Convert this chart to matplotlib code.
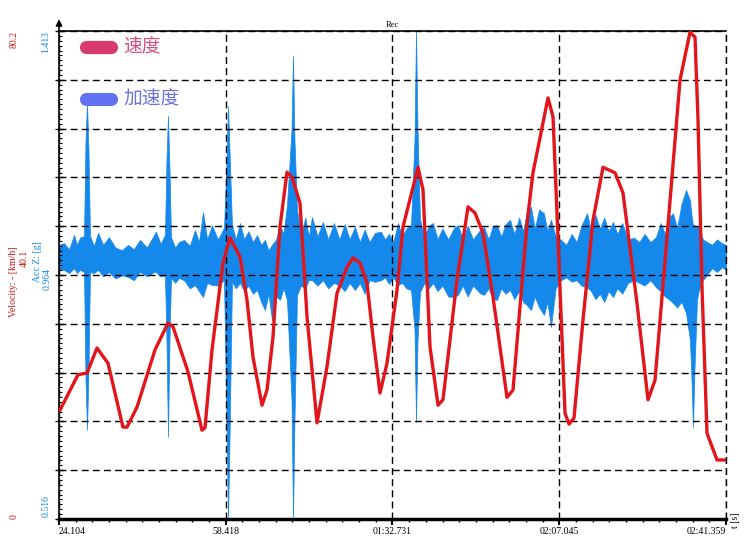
import matplotlib.pyplot as plt
import numpy as np

plt.rcParams['font.family'] = ['Liberation Serif', 'DejaVu Sans']

# velocity trace, km/h over time in s
vel_t = [24.31, 28.01, 29.87, 31.92, 34.19, 37.27, 38.10, 40.16, 43.86, 46.53,
         47.56, 50.65, 53.53, 54.15, 55.59, 57.85, 59.29, 61.35, 62.79, 64.03,
         65.88, 66.91, 68.14, 69.58, 71.02, 72.05, 73.70, 75.14, 77.20, 79.25,
         81.31, 83.37, 84.60, 86.04, 87.48, 88.72, 90.16, 91.60, 93.66, 94.89,
         97.98, 99.01, 100.45, 102.10, 103.12, 106.00, 108.27, 109.71, 111.35, 113.41,
         116.29, 117.53, 120.41, 121.64, 124.73, 125.76, 126.58, 128.23, 129.05, 130.08,
         131.93, 133.99, 136.05, 138.52, 140.16, 143.04, 145.31, 146.75, 149.22, 151.89,
         153.95, 154.98, 155.60, 156.42, 157.45, 159.51, 161.15]
vel_v = [17.9, 23.7, 24.0, 28.1, 25.6, 15.1, 15.1, 18.4, 27.8, 32.2,
         31.6, 24.2, 14.6, 15.0, 27.8, 42.1, 46.2, 43.1, 36.0, 26.6,
         18.7, 21.2, 29.9, 48.0, 57.0, 56.2, 51.9, 33.2, 15.8, 25.0,
         37.1, 41.4, 42.9, 42.1, 38.8, 29.9, 20.7, 25.6, 37.6, 48.0,
         57.8, 54.1, 28.3, 18.7, 19.6, 39.3, 51.3, 50.3, 47.0, 36.5,
         20.0, 21.2, 48.6, 56.9, 69.2, 66.1, 50.3, 17.4, 15.6, 16.6,
         32.7, 49.1, 57.8, 56.9, 53.6, 35.5, 19.6, 22.8, 46.3, 72.1,
         80.0, 79.2, 65.6, 38.1, 14.1, 9.7, 9.7]

# acceleration Z envelope (max / min in g)
acc_t = [24.10, 25.13, 26.2, 27.19, 27.8, 28.43, 29.25, 29.56, 29.87, 30.17,
         30.48, 31.3, 32.13, 33.2, 34.39, 35.7, 37.07, 38.30, 39.5, 40.77,
         42.2, 43.65, 44.06, 45.0, 45.91, 46.22, 46.53, 46.84, 47.15, 48.0,
         48.80, 49.83, 51.0, 52.09, 52.9, 53.74, 54.6, 55.59, 56.8, 58.06,
         58.57, 58.88, 59.19, 59.70, 60.5, 61.35, 62.2, 63.1, 64.0, 64.85,
         65.7, 66.49, 67.2, 67.93, 68.8, 69.58, 70.3, 71.02, 71.95, 72.26,
         72.56, 73.08, 73.9, 74.8, 75.5, 76.17, 77.3, 78.4, 79.5, 80.69,
         81.8, 82.9, 83.9, 85.01, 86.0, 87.0, 88.0, 89.13, 90.36, 91.2,
         92.0, 92.9, 93.86, 94.7, 95.6, 96.54, 97.26, 97.57, 97.88, 98.39,
         99.3, 100.2, 101.06, 102.0, 103.0, 104.2, 105.38, 106.21, 107.2, 108.2,
         109.3, 110.73, 111.56, 112.5, 113.4, 114.23, 115.1, 116.0, 116.91, 117.8,
         118.8, 119.6, 120.40, 121.23, 122.0, 122.9, 123.90, 124.6, 125.34, 126.3,
         127.40, 128.5, 129.6, 130.6, 131.6, 132.75, 133.6, 134.5, 135.4, 136.3,
         137.2, 138.10, 139.0, 140.0, 141.2, 142.42, 143.5, 144.6, 145.8, 146.95,
         147.9, 148.8, 149.6, 150.45, 151.3, 152.2, 153.12, 153.95, 154.26, 154.56,
         154.87, 155.39, 155.80, 156.6, 157.5, 158.48, 159.5, 160.54, 161.36]
acc_hi = [1.020, 1.023, 1.012, 1.038, 1.020, 1.033, 1.036, 1.213, 1.281, 1.194,
          1.036, 1.018, 1.042, 1.020, 1.034, 1.015, 1.010, 1.020, 1.012, 1.029,
          1.015, 1.038, 1.044, 1.022, 1.038, 1.176, 1.257, 1.158, 1.034, 1.015,
          1.025, 1.029, 1.018, 1.047, 1.025, 1.080, 1.030, 1.056, 1.030, 1.051,
          1.176, 1.275, 1.194, 1.056, 1.030, 1.060, 1.030, 1.045, 1.025, 1.038,
          1.020, 1.029, 1.010, 1.020, 1.030, 1.056, 1.040, 1.093, 1.231, 1.367,
          1.213, 1.084, 1.040, 1.070, 1.035, 1.071, 1.035, 1.062, 1.030, 1.060,
          1.030, 1.058, 1.030, 1.053, 1.025, 1.048, 1.025, 1.042, 1.044, 1.030,
          1.040, 1.025, 1.060, 1.035, 1.050, 1.056, 1.213, 1.413, 1.231, 1.066,
          1.035, 1.055, 1.060, 1.030, 1.050, 1.030, 1.051, 1.056, 1.030, 1.055,
          1.030, 1.047, 1.053, 1.030, 1.055, 1.056, 1.035, 1.058, 1.066, 1.040,
          1.070, 1.045, 1.080, 1.090, 1.050, 1.085, 1.078, 1.045, 1.066, 1.035,
          1.029, 1.020, 1.040, 1.025, 1.055, 1.078, 1.045, 1.075, 1.050, 1.070,
          1.045, 1.062, 1.040, 1.060, 1.030, 1.033, 1.025, 1.040, 1.025, 1.034,
          1.060, 1.040, 1.070, 1.078, 1.050, 1.095, 1.121, 1.102, 1.075, 1.056,
          1.056, 1.053, 1.053, 1.030, 1.025, 1.020, 1.030, 1.023, 1.020]
acc_lo = [0.974, 0.974, 0.968, 0.977, 0.968, 0.974, 0.970, 0.771, 0.680, 0.790,
          0.970, 0.968, 0.974, 0.962, 0.970, 0.958, 0.964, 0.961, 0.955, 0.970,
          0.962, 0.970, 0.970, 0.962, 0.964, 0.845, 0.667, 0.845, 0.959, 0.950,
          0.959, 0.955, 0.940, 0.946, 0.935, 0.924, 0.950, 0.946, 0.945, 0.955,
          0.698, 0.516, 0.661, 0.952, 0.940, 0.950, 0.935, 0.945, 0.930, 0.937,
          0.915, 0.900, 0.930, 0.882, 0.925, 0.919, 0.940, 0.919, 0.735, 0.516,
          0.698, 0.928, 0.945, 0.940, 0.955, 0.955, 0.945, 0.955, 0.940, 0.950,
          0.945, 0.935, 0.950, 0.937, 0.950, 0.930, 0.955, 0.952, 0.955, 0.960,
          0.948, 0.960, 0.946, 0.950, 0.940, 0.937, 0.863, 0.694, 0.845, 0.933,
          0.950, 0.940, 0.950, 0.935, 0.945, 0.925, 0.924, 0.928, 0.945, 0.925,
          0.945, 0.931, 0.928, 0.940, 0.920, 0.919, 0.940, 0.930, 0.937, 0.920,
          0.935, 0.915, 0.909, 0.900, 0.925, 0.905, 0.891, 0.915, 0.869, 0.940,
          0.955, 0.960, 0.952, 0.955, 0.945, 0.942, 0.935, 0.920, 0.930, 0.915,
          0.935, 0.924, 0.940, 0.930, 0.950, 0.955, 0.950, 0.945, 0.955, 0.942,
          0.935, 0.925, 0.920, 0.913, 0.905, 0.915, 0.895, 0.845, 0.771, 0.685,
          0.790, 0.919, 0.937, 0.955, 0.965, 0.977, 0.970, 0.979, 0.974]

t_min, t_max = 24.104, 161.359
v_min, v_max = 0, 80.2
a_min, a_max = 0.516, 1.413
t_ticks = [24.104, 58.418, 92.731, 127.045, 161.359]
t_labels = ["24.104", "58.418", "01:32.731", "02:07.045", "02:41.359"]

red = '#e3151b'
blue = '#1588ec'

fig = plt.figure(figsize=(7.5, 5.55), dpi=100)
ax = fig.add_axes([59 / 750, 36 / 555, 667 / 750, 488 / 555])
axv = ax.twinx()

ax.fill_between(acc_t, acc_lo, acc_hi, color=blue, lw=0.5, edgecolor=blue)
axv.plot(vel_t, vel_v, color=red, lw=2.4)

ax.set_xlim(t_min, t_max)
ax.set_ylim(a_min, a_max)
axv.set_ylim(v_min, v_max)

# grid
ax.set_yticks(np.linspace(a_min, a_max, 11))
ax.set_xticks(t_ticks)
ax.set_xticklabels(t_labels, fontsize=7)
for lab, ha in zip(ax.get_xticklabels(), ['left', 'center', 'center', 'center', 'right']):
    lab.set_ha(ha)
ax.grid(True, color='black', ls=(0, (5, 3)), lw=1)
ax.axvline(t_max, color='black', ls=(0, (5, 3)), lw=1, clip_on=False)
ax.set_yticklabels([])
ax.set_xticks(np.linspace(t_min, t_max, 41), minor=True)
ax.set_yticks(np.linspace(a_min, a_max, 101), minor=True)
ax.tick_params(axis='y', which='major', direction='inout', length=6, width=1)
ax.tick_params(axis='y', which='minor', direction='in', length=2, width=0.8)
ax.tick_params(axis='x', which='major', direction='out', length=4, width=1.5, pad=2)
ax.tick_params(axis='x', which='minor', direction='out', length=2.5, width=1)

axv.set_yticks([])
for ss in ['left', 'right', 'top', 'bottom']:
    axv.spines[ss].set_visible(False)
ax.spines['right'].set_visible(False)
ax.spines['bottom'].set_linewidth(2.5)
ax.spines['top'].set_linewidth(1.2)
ax.spines['left'].set_linewidth(1.2)

# arrow on top of y axis
ax.annotate('', xy=(0, 1.03), xytext=(0, 0.995), xycoords='axes fraction',
            arrowprops=dict(arrowstyle='-|>', color='black', lw=1.2, mutation_scale=9))

ax.set_title('Rec', fontsize=6, pad=3)


# axis texts
def ftxt(px, py, s, color):
    fig.text(px / 750, 1 - py / 555, s, color=color, rotation=90,
             ha='center', va='center', fontsize=7)


ftxt(14, 40, "80.2", '#cc1111')
ftxt(14, 282, "Velocity: - [km/h]", '#cc1111')
ftxt(24, 258, "40.1", '#cc1111')
ftxt(14, 517, "0", '#cc1111')
ftxt(46, 42, "1.413", blue)
ftxt(38, 262, "Acc Z: [g]", blue)
ftxt(47, 279, "0.964", blue)
ftxt(46, 506, "0.516", blue)
ftxt(735, 520, "t [s]", 'black')

# legend
ax.plot([0.0412, 0.0787], [0.967, 0.967], transform=ax.transAxes, color='#d93a6c',
        lw=9.5, solid_capstyle='round', clip_on=False)
ax.plot([0.0412, 0.0787], [0.861, 0.861], transform=ax.transAxes, color='#6272f3',
        lw=9.5, solid_capstyle='round', clip_on=False)
ax.text(0.096, 0.967, '速度', transform=ax.transAxes, color='#d94f7c', fontsize=13.5,
        va='center', ha='left', family=['Noto Sans CJK SC', 'DejaVu Sans'])
ax.text(0.096, 0.861, '加速度', transform=ax.transAxes, color='#6a72e2', fontsize=13.5,
        va='center', ha='left', family=['Noto Sans CJK SC', 'DejaVu Sans'])

fig.savefig('out.png', dpi=100)
